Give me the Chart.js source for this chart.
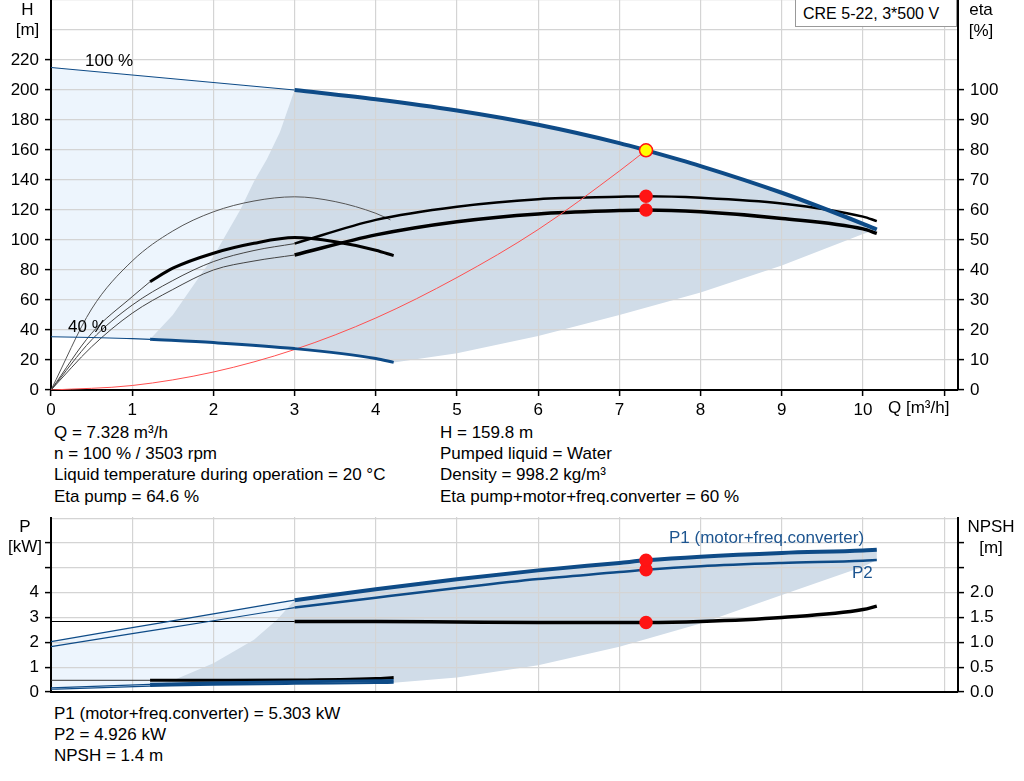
<!DOCTYPE html>
<html>
<head>
<meta charset="utf-8">
<script src="https://cdn.jsdelivr.net/npm/chart.js@4/dist/chart.umd.min.js"></script>
<style>
  body { margin: 0; background: #fff; }
  #wrap { position: relative; width: 1024px; height: 781px; overflow: hidden;
          font-family: "Liberation Sans", Arial, sans-serif; font-size: 17px; color: #000; }
  .t { position: absolute; white-space: nowrap; line-height: 18px; }
  .c { text-align: center; }
  canvas { position: absolute; left: 0; }
  #box { position: absolute; left: 795px; top: -1px; width: 162px; height: 28px; border: 1px solid #999;
         background: #fff; line-height: 28px; padding-left: 7px; box-sizing: border-box; font-size: 16px; }
</style>
</head>
<body>
<div id="wrap">
  <canvas id="topChart" width="1024" height="420" style="top:0"></canvas>
  <canvas id="botChart" width="1024" height="180" style="top:517px"></canvas>

  <div id="box">CRE 5-22, 3*500 V</div>
  <div class="t c" style="left:0;width:55px;top:1px">H</div>
  <div class="t c" style="left:0;width:55px;top:21px">[m]</div>
  <div class="t c" style="left:961px;width:40px;top:1px">eta</div>
  <div class="t c" style="left:961px;width:40px;top:22px">[%]</div>
  <div class="t" style="left:85px;top:52px">100 %</div>
  <div class="t" style="left:68px;top:318px">40 %</div>
  <div class="t" style="left:888px;top:399px">Q [m³/h]</div>

  <div class="t" style="left:54px;top:424px">Q = 7.328 m³/h</div>
  <div class="t" style="left:54px;top:445px">n = 100 % / 3503 rpm</div>
  <div class="t" style="left:54px;top:466px">Liquid temperature during operation = 20 °C</div>
  <div class="t" style="left:54px;top:488px">Eta pump = 64.6 %</div>
  <div class="t" style="left:440px;top:424px">H = 159.8 m</div>
  <div class="t" style="left:440px;top:445px">Pumped liquid = Water</div>
  <div class="t" style="left:440px;top:466px">Density = 998.2 kg/m³</div>
  <div class="t" style="left:440px;top:488px">Eta pump+motor+freq.converter = 60 %</div>

  <div class="t c" style="left:5px;width:40px;top:518px">P</div>
  <div class="t c" style="left:0;width:50px;top:538px">[kW]</div>
  <div class="t c" style="left:961px;width:60px;top:518px">NPSH</div>
  <div class="t c" style="left:961px;width:60px;top:539px">[m]</div>
  <div class="t" style="left:669px;top:529px;color:#1d5590">P1 (motor+freq.converter)</div>
  <div class="t" style="left:852px;top:564px;color:#1d5590">P2</div>

  <div class="t" style="left:54px;top:705px">P1 (motor+freq.converter) = 5.303 kW</div>
  <div class="t" style="left:54px;top:726px">P2 = 4.926 kW</div>
  <div class="t" style="left:54px;top:747px">NPSH = 1.4 m</div>
</div>

<script>
// ---- ticks ----
const qTicks = [0, 1, 2, 3, 4, 5, 6, 7, 8, 9, 10, 11];
const hTicks = [0, 20, 40, 60, 80, 100, 120, 140, 160, 180, 200, 220, 240, 260];
const etaTicks = [0, 10, 20, 30, 40, 50, 60, 70, 80, 90, 100];
const pTicks = [0, 1, 2, 3, 4, 5, 6, 7];
const npshTicks = [0, 0.5, 1, 1.5, 2, 2.5, 3];

// ---- duty point ----
const qDuty = 7.328;
const hDuty = 159.8;
const etaPumpDuty = 64.6;
const etaTotDuty = 60;
const p1Duty = 5.303;
const p2Duty = 4.926;
const npshDuty = 1.4;

// ---- H curves (m) ----
const qH100thin = [0, 1, 2, 3];
const h100thin = [215, 210, 205, 200];
const qH100 = [3, 4, 5, 6, 7, 7.328, 8, 9, 10, 10.17];
const h100 = [200, 193.8, 186.3, 176.8, 164.6, 159.8, 149.3, 131.5, 110.8, 107];
const qH40thin = [0, 0.5, 1, 1.22];
const h40thin = [35.5, 35, 34.2, 33.8];
const qH40 = [1.22, 2, 3, 4, 4.22];
const h40 = [33.8, 31.6, 27.6, 21, 18.4];
const qSystem = [0, 1, 2, 3, 4, 5, 6, 7, 7.328];
const hSystem = [0, 3, 12, 27, 48, 75, 107, 146, 159.8];
const qMinFlow = [1.22, 1.5, 2, 2.33, 2.5, 2.66, 2.82, 3];
const hMinFlow = [33.8, 50, 89, 120, 139, 154, 172, 200];
const qMaxFlow = [4.22, 5, 6, 7, 8, 9, 10, 10.17];
const hMaxFlow = [18.4, 24.5, 36, 50, 65, 83, 104, 107];

// ---- eta curves (%) ----
const qEtaThin = [0, 0.5, 1, 1.5, 2, 2.5, 3];
const etaPumpThin = [0, 16.7, 28.3, 36.5, 42.8, 46.5, 48.8];
const etaTotThin = [0, 14.4, 25.6, 33.5, 40, 43, 45];
const qEta = [3, 4, 5, 6, 7, 7.328, 8, 9, 10, 10.17];
const etaPump = [48.8, 56.7, 61.1, 63.6, 64.4, 64.6, 64.1, 62.2, 57.8, 56.3];
const etaTot = [45, 51.7, 56.1, 58.7, 59.8, 60, 59.4, 57.2, 53.7, 52.2];
const qEtaPump40 = [0, 0.5, 1, 1.5, 2, 2.5, 3, 3.5, 4, 4.18];
const etaPump40 = [0, 27, 43, 53, 59.4, 63, 64.4, 62.8, 58.9, 56.7];
const qEtaTot40thin = [0, 0.5, 1, 1.22];
const etaTot40thin = [0, 18.9, 31.1, 36.1];
const qEtaTot40 = [1.22, 1.5, 2, 2.5, 3, 3.5, 4, 4.22];
const etaTot40 = [36.1, 40.6, 45.6, 48.9, 50.8, 49.4, 46.6, 44.8];

// ---- power curves (kW) and NPSH (m) ----
const qPthin = [0, 1, 2, 3];
const p1thin = [2.03, 2.59, 3.15, 3.70];
const p2thin = [1.83, 2.35, 2.87, 3.40];
const qP = [3, 4, 5, 6, 7, 7.328, 8, 9, 10, 10.17];
const p1 = [3.70, 4.14, 4.54, 4.90, 5.20, 5.303, 5.45, 5.60, 5.70, 5.73];
const p2 = [3.40, 3.80, 4.19, 4.55, 4.83, 4.926, 5.07, 5.20, 5.29, 5.32];
const qNpshThin = [0, 3];
const npshThin = [1.42, 1.42];
const qNpsh = [3, 4, 5, 6, 7, 7.328, 8, 9, 10, 10.17];
const npsh = [1.42, 1.42, 1.41, 1.40, 1.40, 1.40, 1.42, 1.50, 1.66, 1.73];
const q40thin = [0, 1.22];
const p1_40thin = [0.17, 0.31];
const p2_40thin = [0.11, 0.24];
const npsh40thin = [0.236, 0.236];
const q40 = [1.22, 2, 3, 4, 4.22];
const p1_40 = [0.31, 0.36, 0.41, 0.45, 0.46];
const p2_40 = [0.24, 0.29, 0.33, 0.36, 0.37];
const npsh40 = [0.236, 0.236, 0.24, 0.27, 0.29];
const qPMinFlow = [1.22, 1.5, 2, 2.5, 2.78, 3];
const pMinFlow = [0.24, 0.46, 1.16, 2.1, 2.9, 3.70];
const qPMaxFlow = [4.22, 5, 6, 7, 8, 9, 10, 10.17];
const pMaxFlow = [0.37, 0.58, 1.08, 1.82, 2.76, 3.91, 5.05, 5.32];

const BLUE = '#0e4b87';
const RED = '#ff1414';
const GRID = '#d4d4d4';
const LIGHT = '#edf5fd';
const DARK = '#d0dce8';
const FONT = { family: "'Liberation Sans', Arial, sans-serif", size: 17 };

function pts(xs, ys) {
  return xs.map((x, i) => ({ x: x, y: ys[i] }));
}
function rev(a) { return a.slice().reverse(); }

function curve(xs, ys, color, width, axis) {
  return {
    data: pts(xs, ys), showLine: true, borderColor: color, borderWidth: width,
    pointRadius: 0, cubicInterpolationMode: 'monotone', fill: false,
    yAxisID: axis || 'y', order: 5
  };
}
// closed outline filled with 'shape', used for the operating ranges
function area(xs, ys, color, order) {
  return {
    data: pts(xs, ys), showLine: true, borderWidth: 0, borderColor: 'rgba(0,0,0,0)',
    backgroundColor: color, pointRadius: 0, tension: 0, fill: 'shape',
    yAxisID: 'y', order: order
  };
}
function dot(x, y, bg, border, axis, r) {
  return {
    data: [{ x: x, y: y }], showLine: false, pointRadius: r || 6, pointBackgroundColor: bg,
    pointBorderColor: border, pointBorderWidth: 1.5, yAxisID: axis, order: 0
  };
}

function fixedTicks(list) {
  return s => { s.ticks = list.map(v => ({ value: v })); };
}

function xScale(max, height, showLabels) {
  return {
    type: 'linear', min: 0, max: max,
    afterBuildTicks: fixedTicks(qTicks),
    afterFit: s => { s.height = height; s.paddingLeft = 0; s.paddingRight = 0; },
    ticks: { display: showLabels, font: FONT, color: '#000', padding: 4, maxRotation: 0, autoSkip: false,
             callback: v => (v <= 10 ? String(v) : '') },
    grid: { color: GRID, lineWidth: 1.2, drawTicks: showLabels, tickColor: '#000', tickLength: 6, tickWidth: 1.5 },
    border: { color: '#000', width: 2 }
  };
}
function yScale(pos, max, list, lastLabel, lastTick, width, grid, fmt) {
  return {
    type: 'linear', position: pos, min: 0, max: max,
    afterBuildTicks: fixedTicks(list),
    afterFit: s => { s.width = width; s.paddingTop = 0; s.paddingBottom = 0; },
    ticks: { font: FONT, color: '#000', padding: 6, autoSkip: false,
             callback: v => (v <= lastLabel ? fmt(v) : '') },
    grid: { drawOnChartArea: grid, color: GRID, lineWidth: 1.2, tickLength: 6, tickWidth: 1.5,
            tickColor: c => (c.tick && c.tick.value > lastTick ? 'rgba(0,0,0,0)' : '#000') },
    border: { color: '#000', width: 2 }
  };
}

const baseOptions = (scales) => ({
  responsive: false, animation: false,
  layout: { padding: 0, autoPadding: false },
  plugins: { legend: { display: false }, tooltip: { enabled: false }, filler: { drawTime: 'beforeDraw' } },
  scales: scales
});

// ---------- top chart: H and eta ----------
const nTop3 = qH40.filter(q => q <= 3).length;
const lightTopQ = qH100thin.concat(rev(qH40.slice(0, nTop3)), rev(qH40thin));
const lightTopH = h100thin.concat(rev(h40.slice(0, nTop3)), rev(h40thin));
const darkTopQ = qMinFlow.concat(qH100.slice(1), rev(qMaxFlow).slice(1), rev(qH40).slice(1));
const darkTopH = hMinFlow.concat(h100.slice(1), rev(hMaxFlow).slice(1), rev(h40).slice(1));

new Chart(document.getElementById('topChart'), {
  type: 'scatter',
  data: {
    datasets: [
      dot(qDuty, hDuty, '#ffff00', RED, 'y', 6.5),
      dot(qDuty, etaPumpDuty, RED, RED, 'y2'),
      dot(qDuty, etaTotDuty, RED, RED, 'y2'),
      curve(qH100thin, h100thin, BLUE, 1.2),
      curve(qH100, h100, BLUE, 4),
      curve(qH40thin, h40thin, BLUE, 1.2),
      curve(qH40, h40, BLUE, 3),
      curve(qSystem, hSystem, '#ff5050', 1),
      curve(qEtaThin, etaPumpThin, '#444', 1, 'y2'),
      curve(qEtaThin, etaTotThin, '#444', 1, 'y2'),
      curve(qEta, etaPump, '#000', 2.5, 'y2'),
      curve(qEta, etaTot, '#000', 3.5, 'y2'),
      curve(qEtaPump40, etaPump40, '#555', 1, 'y2'),
      curve(qEtaTot40thin, etaTot40thin, '#444', 1, 'y2'),
      curve(qEtaTot40, etaTot40, '#000', 3, 'y2'),
      area(darkTopQ, darkTopH, DARK, 10),
      area(lightTopQ, lightTopH, LIGHT, 20)
    ]
  },
  options: baseOptions({
    x: xScale(11.17, 30, true),
    y: yScale('left', 260, hTicks, 220, 220, 51, true, v => String(v)),
    y2: yScale('right', 130, etaTicks, 100, 100, 66, false, v => String(v))
  })
});

// ---------- bottom chart: P and NPSH ----------
const n3 = q40.filter(q => q <= 3).length;
const lightBotQ = qPthin.concat(rev(q40.slice(0, n3)), rev(q40thin));
const lightBotP = p1thin.concat(rev(p2_40.slice(0, n3)), rev(p2_40thin));
const darkBotQ = qPMinFlow.concat(qP.slice(1), rev(qPMaxFlow), rev(q40).slice(1));
const darkBotP = pMinFlow.concat(p1.slice(1), rev(pMaxFlow), rev(p2_40).slice(1));

new Chart(document.getElementById('botChart'), {
  type: 'scatter',
  data: {
    datasets: [
      dot(qDuty, p1Duty, RED, RED, 'y'),
      dot(qDuty, p2Duty, RED, RED, 'y'),
      dot(qDuty, npshDuty, RED, RED, 'y2'),
      curve(qPthin, p1thin, BLUE, 1.2),
      curve(qPthin, p2thin, BLUE, 1.2),
      curve(qP, p1, BLUE, 4),
      curve(qP, p2, BLUE, 2.5),
      curve(qNpshThin, npshThin, '#000', 1, 'y2'),
      curve(qNpsh, npsh, '#000', 3.5, 'y2'),
      curve(q40thin, p1_40thin, BLUE, 1.2),
      curve(q40thin, p2_40thin, BLUE, 1.2),
      curve(q40, p1_40, BLUE, 3),
      curve(q40, p2_40, BLUE, 2),
      curve(q40thin, npsh40thin, '#333', 1, 'y2'),
      curve(q40, npsh40, '#000', 3, 'y2'),
      area(darkBotQ, darkBotP, DARK, 10),
      area(lightBotQ, lightBotP, LIGHT, 20)
    ]
  },
  options: baseOptions({
    x: xScale(11.17, 5, false),
    y: yScale('left', 7.05, pTicks, 4, 6, 51, true, v => String(v)),
    y2: yScale('right', 3.525, npshTicks, 2, 3, 66, false, v => v.toFixed(1))
  })
});
</script>
</body>
</html>
